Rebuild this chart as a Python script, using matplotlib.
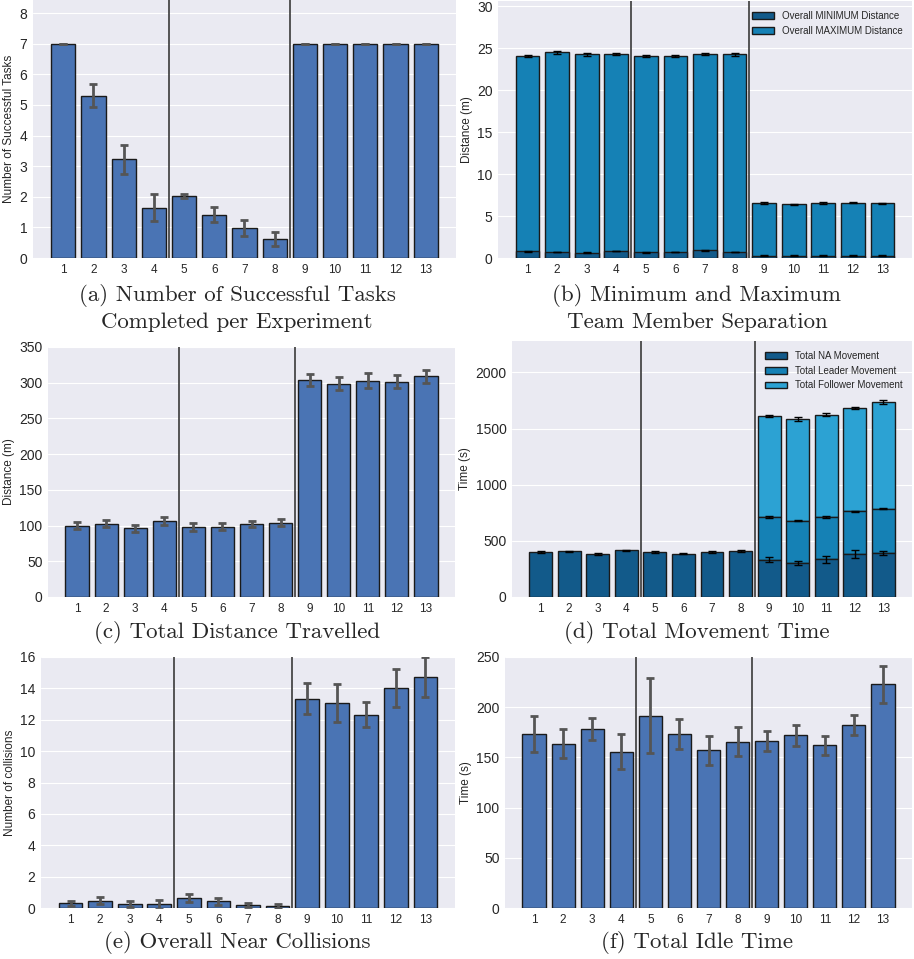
import numpy as np
import matplotlib
matplotlib.use("Agg")
import matplotlib.pyplot as plt

# ---------------------------------------------------------------------------
# Data: 13 experiments, three groups (1-4, 5-8, 9-13)
# ---------------------------------------------------------------------------
experiments = np.arange(1, 14)
tick_labels = [str(i) for i in experiments]

tasks_mean = [7.0, 5.3, 3.22, 1.65, 2.02, 1.42, 0.98, 0.62, 7.0, 7.0, 7.0, 7.0, 7.0]
tasks_err = [0.0, 0.37, 0.47, 0.43, 0.06, 0.25, 0.26, 0.24, 0.0, 0.0, 0.0, 0.0, 0.0]

sep_min = [0.80, 0.72, 0.64, 0.84, 0.68, 0.72, 0.92, 0.72, 0.28, 0.28, 0.28, 0.28, 0.28]
sep_min_err = [0.05, 0.05, 0.05, 0.05, 0.05, 0.05, 0.05, 0.05, 0.03, 0.03, 0.03, 0.03, 0.03]
sep_max = [24.1, 24.5, 24.25, 24.25, 24.1, 24.0, 24.25, 24.25, 6.55, 6.38, 6.55, 6.58, 6.5]
sep_max_err = [0.12, 0.18, 0.15, 0.12, 0.12, 0.12, 0.12, 0.2, 0.08, 0.08, 0.08, 0.08, 0.08]

dist_mean = [100.0, 102.8, 96.3, 106.6, 98.2, 98.2, 102.4, 103.8, 303.4, 298.7, 302.5, 301.5, 309.0]
dist_err = [4.5, 4.5, 5.0, 5.5, 5.5, 5.0, 4.5, 5.0, 8.5, 9.5, 10.5, 9.5, 9.5]

move_na = [401, 407, 383, 416, 404, 386, 401, 410, 333, 303, 336, 386, 392]
move_na_err = [7, 6, 6, 7, 8, 6, 5, 6, 25, 15, 32, 35, 18]
move_leader = [0, 0, 0, 0, 0, 0, 0, 0, 380, 375, 377, 378, 393]
move_leader_err = [0, 0, 0, 0, 0, 0, 0, 0, 5, 5, 5, 5, 5]
move_follower = [0, 0, 0, 0, 0, 0, 0, 0, 901, 909, 910, 918, 953]
move_follower_err = [0, 0, 0, 0, 0, 0, 0, 0, 10, 18, 12, 10, 20]

coll_mean = [0.30, 0.47, 0.28, 0.23, 0.66, 0.43, 0.21, 0.15, 13.34, 13.06, 12.33, 14.02, 14.7]
coll_err = [0.17, 0.21, 0.19, 0.28, 0.26, 0.23, 0.13, 0.13, 0.98, 1.19, 0.79, 1.21, 1.28]

idle_mean = [173.2, 163.6, 177.9, 155.6, 191.5, 173.5, 157.2, 165.6, 166.2, 171.9, 161.9, 182.2, 222.7]
idle_err = [18.3, 14.3, 10.9, 17.6, 37.2, 14.7, 14.3, 14.3, 9.7, 10.3, 9.6, 10.3, 18.7]

group_breaks = [4.5, 8.5]

# ---------------------------------------------------------------------------
# Style
# ---------------------------------------------------------------------------
plt.style.use("seaborn-v0_8-darkgrid")
plt.rcParams["font.family"] = ["Liberation Sans", "DejaVu Sans"]

BLUE = "#4a74b4"
DARK = "#125a8a"
MID = "#1581b5"
LIGHT = "#2ca2d3"
ERR = "#555555"

W, H = 914, 959
fig = plt.figure(figsize=(W / 100, H / 100), dpi=100)


def px_axes(x0, y0, x1, y1):
    return fig.add_axes([x0 / W, 1 - y1 / H, (x1 - x0) / W, (y1 - y0) / H])


def style(ax, ylim, ylabel):
    ax.set_xlim(0, 14)
    ax.set_ylim(*ylim)
    ax.set_xticks(experiments)
    ax.set_xticklabels(tick_labels, fontsize=8.5)
    ax.tick_params(axis="y", labelsize=10, pad=4)
    ax.tick_params(axis="x", pad=4)
    ax.grid(axis="x", visible=False)
    ax.set_ylabel(ylabel, fontsize=8.5, labelpad=3)
    for xb in group_breaks:
        ax.axvline(xb, color="#3a3a3a", lw=1.2, zorder=4)


def simple_bars(ax, mean, err):
    ax.bar(experiments, mean, width=0.8, color=BLUE, edgecolor="#1a1a1a",
           linewidth=1.0, zorder=2)
    ax.errorbar(experiments, mean, yerr=err, fmt="none", ecolor=ERR,
                elinewidth=2, capsize=3, capthick=2, zorder=3)


def caption(x, y, text):
    fig.text(x / W, 1 - y / H, text, ha="center", va="center",
             fontsize=16.5, family="cmr10", linespacing=1.3)


# (a) successful tasks
ax_a = px_axes(33, 0, 456, 258)
simple_bars(ax_a, tasks_mean, tasks_err)
style(ax_a, (0, 8.43), "Number of Successful Tasks")

# (b) min / max separation
ax_b = px_axes(498, 1, 912, 258)
ax_b.bar(experiments, sep_max, width=0.8, color=MID, edgecolor="#1a1a1a",
         linewidth=1.0, zorder=2, label="Overall MAXIMUM Distance")
ax_b.bar(experiments, sep_min, width=0.8, color=DARK, edgecolor="#1a1a1a",
         linewidth=1.0, zorder=2, label="Overall MINIMUM Distance")
ax_b.errorbar(experiments, sep_max, yerr=sep_max_err, fmt="none", ecolor="black",
              elinewidth=1, capsize=3, zorder=3)
ax_b.errorbar(experiments, sep_min, yerr=sep_min_err, fmt="none", ecolor="black",
              elinewidth=1, capsize=3, zorder=3)
style(ax_b, (0, 30.6), "Distance (m)")
h, l = ax_b.get_legend_handles_labels()
ax_b.legend(h[::-1], l[::-1], loc="upper right", fontsize=7, frameon=False,
            handlelength=2.2, borderaxespad=0.6)

# (c) distance travelled
ax_c = px_axes(48, 347, 455, 597)
simple_bars(ax_c, dist_mean, dist_err)
style(ax_c, (0, 350), "Distance (m)")

# (d) movement time, stacked
ax_d = px_axes(512, 341, 912, 597)
na = np.array(move_na)
leader_top = na + np.array(move_leader)
follower_top = leader_top + np.array(move_follower)
stacked = experiments >= 9
ax_d.bar(experiments[stacked], move_follower[8:], bottom=leader_top[stacked],
         width=0.8, color=LIGHT, edgecolor="#1a1a1a", linewidth=1.0, zorder=2,
         label="Total Follower Movement")
ax_d.bar(experiments[stacked], move_leader[8:], bottom=na[stacked],
         width=0.8, color=MID, edgecolor="#1a1a1a", linewidth=1.0, zorder=2,
         label="Total Leader Movement")
ax_d.bar(experiments, move_na, width=0.8, color=DARK, edgecolor="#1a1a1a",
         linewidth=1.0, zorder=2, label="Total NA Movement")
ax_d.errorbar(experiments, na, yerr=move_na_err, fmt="none", ecolor="black",
              elinewidth=1, capsize=3, zorder=3)
ax_d.errorbar(experiments[stacked], leader_top[stacked], yerr=move_leader_err[8:],
              fmt="none", ecolor="black", elinewidth=1, capsize=3, zorder=3)
ax_d.errorbar(experiments[stacked], follower_top[stacked], yerr=move_follower_err[8:],
              fmt="none", ecolor="black", elinewidth=1, capsize=3, zorder=3)
style(ax_d, (0, 2280), "Time (s)")
ax_d.set_yticks([0, 500, 1000, 1500, 2000])
h, l = ax_d.get_legend_handles_labels()
ax_d.legend(h[::-1], l[::-1], loc="upper right", fontsize=7, frameon=False,
            handlelength=2.2, borderaxespad=0.6)

# (e) near collisions
ax_e = px_axes(41, 657, 455, 908)
simple_bars(ax_e, coll_mean, coll_err)
style(ax_e, (0, 16), "Number of collisions")

# (f) idle time
ax_f = px_axes(505, 657, 912, 908)
simple_bars(ax_f, idle_mean, idle_err)
style(ax_f, (0, 250), "Time (s)")

# Sub-figure captions
caption(237, 308, "(a) Number of Successful Tasks\nCompleted per Experiment")
caption(697, 308, "(b) Minimum and Maximum\nTeam Member Separation")
caption(237, 633, "(c) Total Distance Travelled")
caption(697, 633, "(d) Total Movement Time")
caption(237, 943, "(e) Overall Near Collisions")
caption(697, 943, "(f) Total Idle Time")

fig.savefig("out.png", dpi=100, facecolor="white")
